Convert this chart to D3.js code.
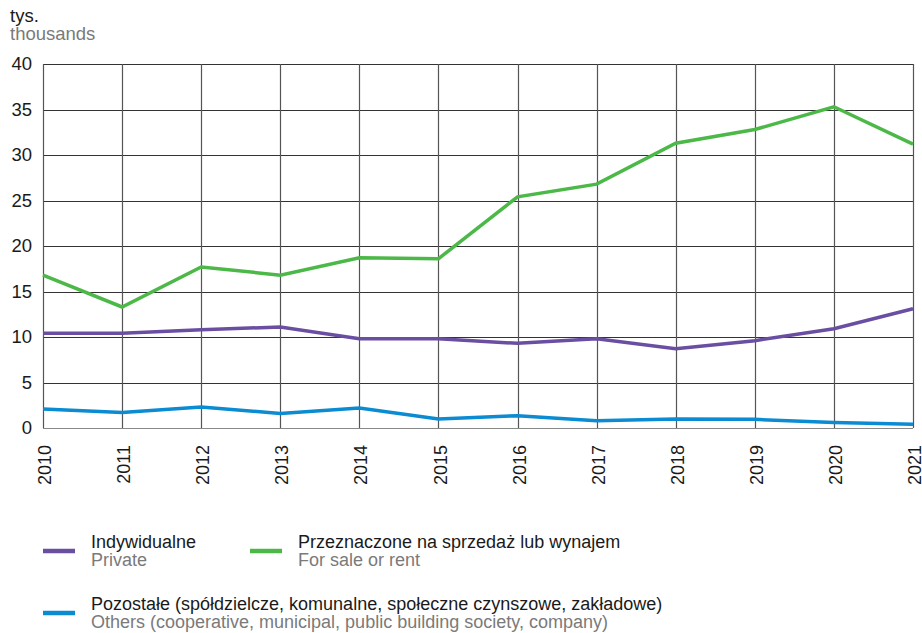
<!DOCTYPE html>
<html><head><meta charset="utf-8">
<script src="https://cdn.jsdelivr.net/npm/d3@7"></script>
<style>body{margin:0;background:#fff;} text{font-family:"Liberation Sans",Arial,sans-serif;}</style>
</head><body>
<svg id="c" width="922" height="633"></svg>
<script>
const years = [2010,2011,2012,2013,2014,2015,2016,2017,2018,2019,2020,2021];
const privateVals = [10.4,10.4,10.8,11.1,9.8,9.8,9.3,9.8,8.7,9.6,10.9,13.1];
const saleVals = [16.8,13.3,17.7,16.8,18.7,18.6,25.4,26.8,31.3,32.8,35.3,31.2];
const otherVals = [2.1,1.7,2.3,1.6,2.2,1.0,1.35,0.8,1.0,0.95,0.6,0.4];
const yTicks = [0,5,10,15,20,25,30,35,40];
const seriesNames = [
  {pl:"Indywidualne", en:"Private"},
  {pl:"Przeznaczone na sprzedaż lub wynajem", en:"For sale or rent"},
  {pl:"Pozostałe (spółdzielcze, komunalne, społeczne czynszowe, zakładowe)", en:"Others (cooperative, municipal, public building society, company)"}
];
const colors = ["#6a4ea1","#4cb848","#0a8bd2"];

const svg = d3.select("#c");
const L=43, R=913, T=64, B=428;
const x = d3.scalePoint().domain(years).range([L,R]);
const y = d3.scaleLinear().domain([0,40]).range([B,T]);

// horizontal grid
svg.append("g").selectAll("line").data(yTicks).join("line")
  .attr("x1",L).attr("x2",R).attr("y1",d=>Math.round(y(d))+0.5).attr("y2",d=>Math.round(y(d))+0.5)
  .attr("stroke",d=>d===0?"#888":"#333").attr("stroke-width",1.2);
// vertical grid
svg.append("g").selectAll("line").data(years).join("line")
  .attr("x1",d=>Math.round(x(d))+0.5).attr("x2",d=>Math.round(x(d))+0.5).attr("y1",T).attr("y2",B)
  .attr("stroke","#555").attr("stroke-width",1.2);

// y axis labels
const yAxis = d3.axisLeft(y).tickValues(yTicks).tickSize(0).tickPadding(11);
const gy = svg.append("g").attr("transform",`translate(${L},0)`).call(yAxis);
gy.select(".domain").remove();
gy.selectAll("text").attr("font-size","18.5px").attr("fill","#1a1a1a").attr("font-family","Liberation Sans, Arial, sans-serif");

// x axis labels
const xAxis = d3.axisBottom(x).tickSize(0).tickPadding(0);
const gx = svg.append("g").attr("transform",`translate(0,${B})`).call(xAxis);
gx.select(".domain").remove();
gx.selectAll("text").attr("font-size","18px").attr("fill","#1a1a1a").attr("font-family","Liberation Sans, Arial, sans-serif")
  .attr("transform","rotate(-90)").attr("text-anchor","end").attr("x",-17).attr("y",0).attr("dy","0.42em");

// lines
const line = d3.line().x((d,i)=>x(years[i])).y(d=>y(d));
[privateVals,saleVals,otherVals].forEach((vals,i)=>{
  svg.append("path").datum(vals).attr("d",line).attr("fill","none")
    .attr("stroke",colors[i]).attr("stroke-width",3.5).attr("stroke-linejoin","miter");
});

// unit labels
svg.append("text").attr("x",10).attr("y",22).attr("font-size","18.5px").attr("fill","#1a1a1a").text("tys.");
svg.append("text").attr("x",10).attr("y",40).attr("font-size","18.5px").attr("fill","#7a7a7a").text("thousands");

// legend
const legendPos = [{sx:43,tx:91,y:548},{sx:250,tx:298,y:548},{sx:43,tx:91,y:610}];
seriesNames.forEach((s,i)=>{
  const p = legendPos[i];
  svg.append("line").attr("x1",p.sx).attr("x2",p.sx+32).attr("y1",p.y+3).attr("y2",p.y+3)
    .attr("stroke",colors[i]).attr("stroke-width",4.5);
  svg.append("text").attr("x",p.tx).attr("y",p.y).attr("font-size","18px").attr("fill","#1a1a1a").text(s.pl);
  svg.append("text").attr("x",p.tx).attr("y",p.y+18).attr("font-size","18px").attr("fill","#7a7a7a").text(s.en);
});
</script>
</body></html>
